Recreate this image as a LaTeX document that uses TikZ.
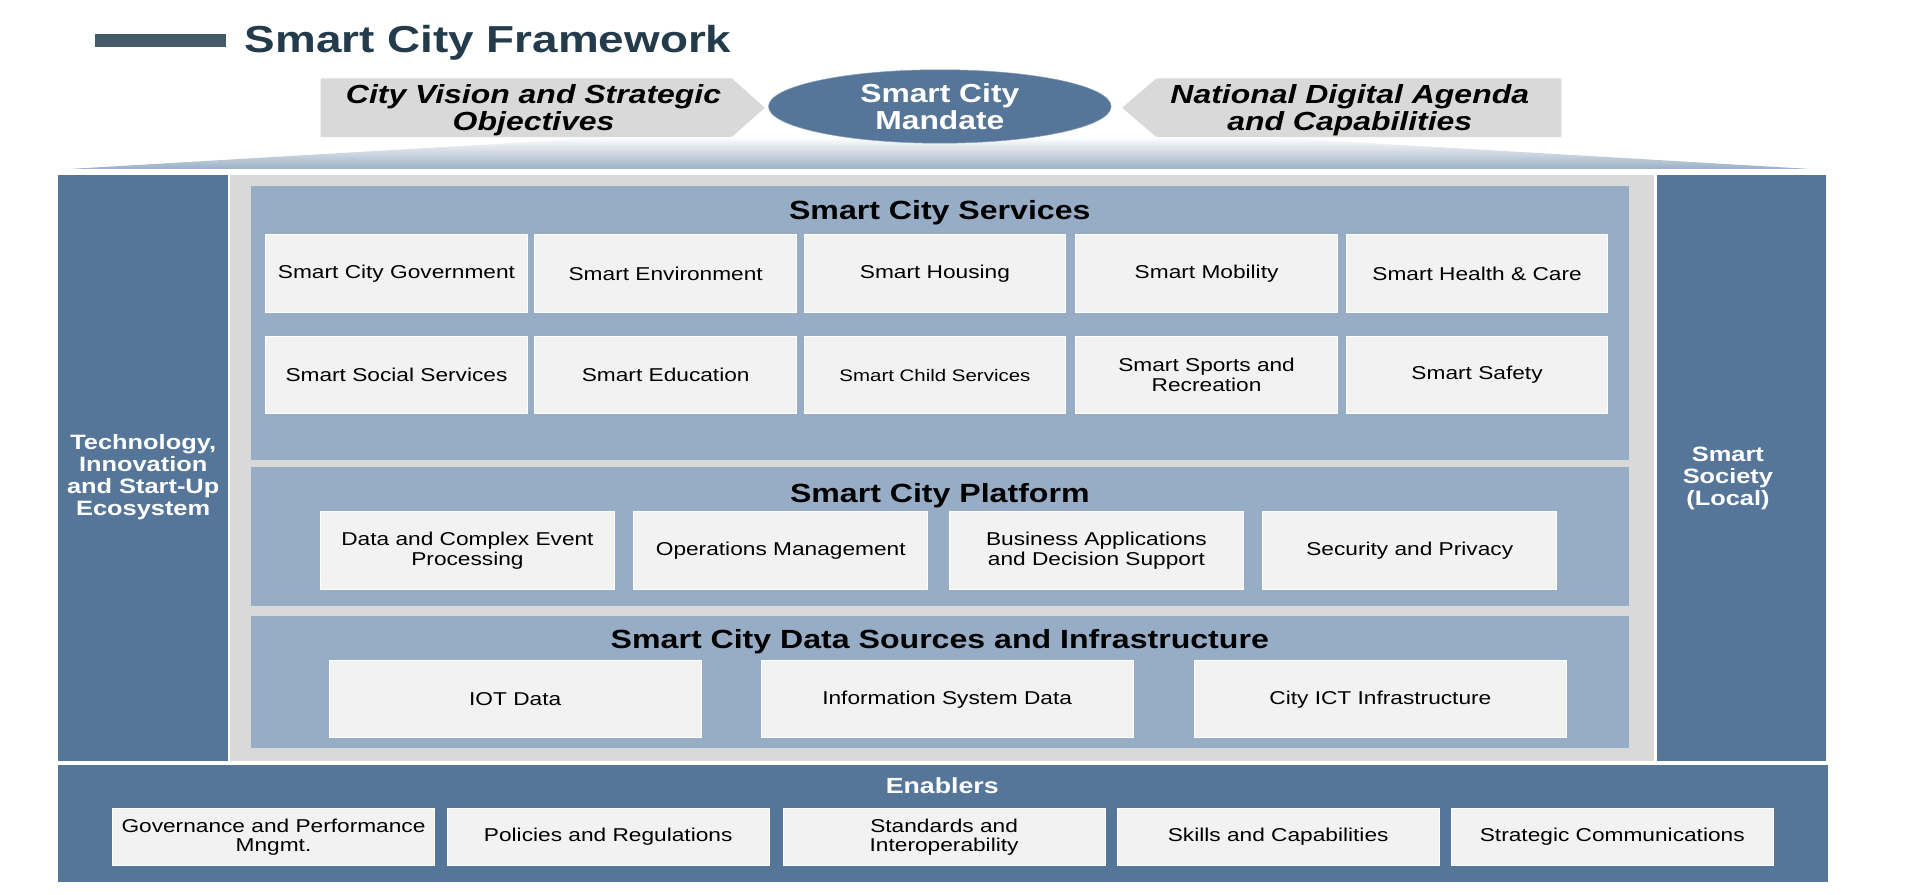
\documentclass[tikz,border=0pt]{standalone}
\usepackage{fontspec}
\setmainfont{Liberation Sans}[FakeStretch=1.22]
\usetikzlibrary{shapes.geometric}
\definecolor{steel}{HTML}{557699}
\definecolor{panel}{HTML}{97ADC6}
\definecolor{midgray}{HTML}{D9D9D9}
\definecolor{boxfill}{HTML}{F2F2F2}
\definecolor{titlebar}{HTML}{455A68}
\definecolor{titletext}{HTML}{243B4C}
\definecolor{gradblue}{HTML}{9BB0C6}
\tikzset{
  svcbox/.style={fill=boxfill, draw=white, line width=0.8pt, minimum width=214, minimum height=63, inner sep=2pt, align=center, font=\fontsize{15.2}{16}\selectfont},
  platbox/.style={svcbox, minimum width=240, minimum height=64},
  databox/.style={svcbox, minimum width=304, minimum height=63},
  enabox/.style={svcbox, minimum width=263, minimum height=46},
  header/.style={font=\fontsize{21.5}{22}\selectfont\bfseries},
  coltext/.style={text=white, align=center, font=\fontsize{17}{18}\selectfont\bfseries},
  toptext/.style={align=center, font=\fontsize{21.4}{22}\selectfont\bfseries\itshape}
}
\begin{document}
\begin{tikzpicture}[x=1pt,y=-1pt]
    \useasboundingbox (0,0) rectangle (1560,731);
    % title
    \fill [titlebar] (78,28) rectangle (185,38);
    \node [anchor=west, inner sep=0, text=titletext, font=\fontsize{30.7}{32}\selectfont\bfseries] (title) at (200,35) {Smart City Framework};
    % mandate
    \fill [midgray] (262,64) -- (598,64) -- (625,88) -- (598,112) -- (262,112) -- cycle;
    \fill [midgray] (945,64) -- (1276,64) -- (1276,112) -- (945,112) -- (917,88) -- cycle;
    \node [toptext] (vision) at (436,90) {City Vision and Strategic\\Objectives};
    \node [toptext] (agenda) at (1103,90) {National Digital Agenda\\and Capabilities};
    \shade [top color=white, bottom color=gradblue] (500,112) -- (1036,112) -- (1478,138) -- (58,138) -- cycle;
    \node [ellipse, fill=steel, draw=steel!70!white, minimum width=280, minimum height=60, inner sep=0, text=white, align=center, font=\fontsize{21.3}{22}\selectfont\bfseries] (mandate) at (768,87) {Smart City\\Mandate};
    % columns
    \fill [steel] (47,143) rectangle (186,622);
    \fill [midgray] (188,143) rectangle (1352,622);
    \fill [steel] (1354,143) rectangle (1492,622);
    \fill [steel] (47,625) rectangle (1494,721);
    \node [coltext] (tech) at (117,390) {Technology,\\Innovation\\and Start-Up\\Ecosystem};
    \node [coltext] (society) at (1412,391) {Smart\\Society\\(Local)};
    % services
    \fill [panel] (205,152) rectangle (1331,376);
    \node [header] (services) at (768,174) {Smart City Services};
    \node [svcbox] (gov) at (324,223.5) {Smart City Government};
    \node [svcbox] (env) at (544,223.5) {Smart Environment};
    \node [svcbox] (hous) at (764,223.5) {Smart Housing};
    \node [svcbox] (mob) at (986,223.5) {Smart Mobility};
    \node [svcbox] (health) at (1207,223.5) {Smart Health \& Care};
    \node [svcbox] (social) at (324,306.5) {Smart Social Services};
    \node [svcbox] (edu) at (544,306.5) {Smart Education};
    \node [svcbox, font=\fontsize{13.7}{15}\selectfont] (child) at (764,306.5) {Smart Child Services};
    \node [svcbox] (sports) at (986,306.5) {Smart Sports and\\Recreation};
    \node [svcbox] (safety) at (1207,306.5) {Smart Safety};
    % platform
    \fill [panel] (205,382) rectangle (1331,495);
    \node [header] (platform) at (768,405) {Smart City Platform};
    \node [platbox] (cep) at (382,450) {Data and Complex Event\\Processing};
    \node [platbox] (ops) at (638,450) {Operations Management};
    \node [platbox] (bus) at (896,450) {Business Applications\\and Decision Support};
    \node [platbox] (sec) at (1152,450) {Security and Privacy};
    % data sources
    \fill [panel] (205,503) rectangle (1331,611);
    \node [header] (data) at (768,524) {Smart City Data Sources and Infrastructure};
    \node [databox] (iot) at (421,571.5) {IOT Data};
    \node [databox] (isd) at (774,571.5) {Information System Data};
    \node [databox] (ict) at (1128,571.5) {City ICT Infrastructure};
    % enablers
    \node [header, text=white, font=\fontsize{17.9}{19}\selectfont\bfseries] (enablers) at (770,642) {Enablers};
    \node [enabox] (gperf) at (223.5,684) {Governance and Performance\\Mngmt.};
    \node [enabox] (policy) at (497,684) {Policies and Regulations};
    \node [enabox] (std) at (771.5,684) {Standards and\\Interoperability};
    \node [enabox] (skills) at (1044.5,684) {Skills and Capabilities};
    \node [enabox] (comms) at (1317.5,684) {Strategic Communications};
\end{tikzpicture}
\end{document}
